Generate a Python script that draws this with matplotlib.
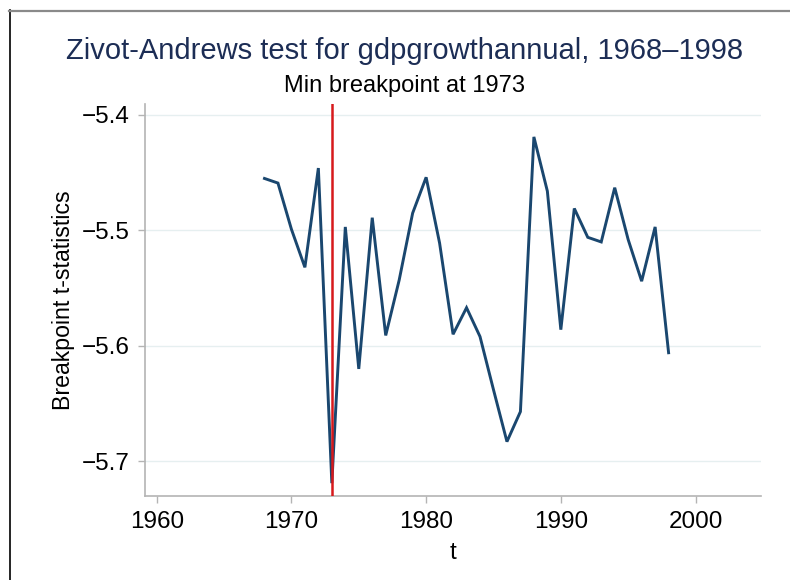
import matplotlib
matplotlib.use("Agg")
import matplotlib.pyplot as plt
from matplotlib.lines import Line2D

years = list(range(1968, 1999))
tstats = [-5.455, -5.459, -5.499, -5.532, -5.446, -5.719, -5.497, -5.620,
          -5.489, -5.591, -5.543, -5.485, -5.454, -5.511, -5.590, -5.567,
          -5.592, -5.638, -5.683, -5.657, -5.419, -5.466, -5.586, -5.481,
          -5.506, -5.510, -5.463, -5.508, -5.544, -5.497, -5.606]
break_year = 1973
xticks = [1960, 1970, 1980, 1990, 2000]
yticks = [-5.7, -5.6, -5.5, -5.4]
ytick_labels = ["\u22125.7", "\u22125.6", "\u22125.5", "\u22125.4"]

plt.rcParams['font.family'] = ['Liberation Sans', 'DejaVu Sans']

fig = plt.figure(figsize=(7.9, 5.8), dpi=100)
W, H = 790, 580
ax = fig.add_axes([145 / W, 1 - 496 / H, (761 - 145) / W, (496 - 104) / H])

ax.plot(years, tstats, color='#1a476f', lw=2.1, zorder=3, solid_joinstyle='miter')
ax.axvline(break_year, color='#d7191c', lw=1.8, zorder=4)

ax.set_xlim(1959.13, 2004.86)
ax.set_ylim(-5.7301, -5.3905)
ax.set_xticks(xticks)
ax.set_yticks(yticks)
ax.set_yticklabels(ytick_labels)
ax.grid(axis='y', color='#e6eff0', lw=1.0, zorder=0)
ax.grid(axis='x', visible=False)

for s in ['top', 'right']:
    ax.spines[s].set_visible(False)
for s in ['left', 'bottom']:
    ax.spines[s].set_color('#b4b4b4')
    ax.spines[s].set_linewidth(1.2)
ax.tick_params(axis='both', direction='out', length=5, width=1.0, color='#b4b4b4',
               labelsize=17.5, labelcolor='black', pad=6)

ax.set_xlabel('t', fontsize=17.5, labelpad=6)
ax.set_ylabel('Breakpoint t-statistics', fontsize=16.7, labelpad=5)

fig.text(405 / W, 1 - 51 / H, 'Zivot-Andrews test for gdpgrowthannual, 1968\u20131998',
         ha='center', va='center', fontsize=21, color='#1c2d55')
fig.text(405 / W, 1 - 86 / H, 'Min breakpoint at 1973',
         ha='center', va='center', fontsize=17, color='black')

fig.add_artist(Line2D([9.5 / W, 9.5 / W], [0, 1 - 10 / H], transform=fig.transFigure,
                      color='black', lw=1.2))
fig.add_artist(Line2D([9 / W, 1], [1 - 10.5 / H, 1 - 10.5 / H], transform=fig.transFigure,
                      color='#8a8a8a', lw=1.6))

fig.savefig('out.png', dpi=100)
